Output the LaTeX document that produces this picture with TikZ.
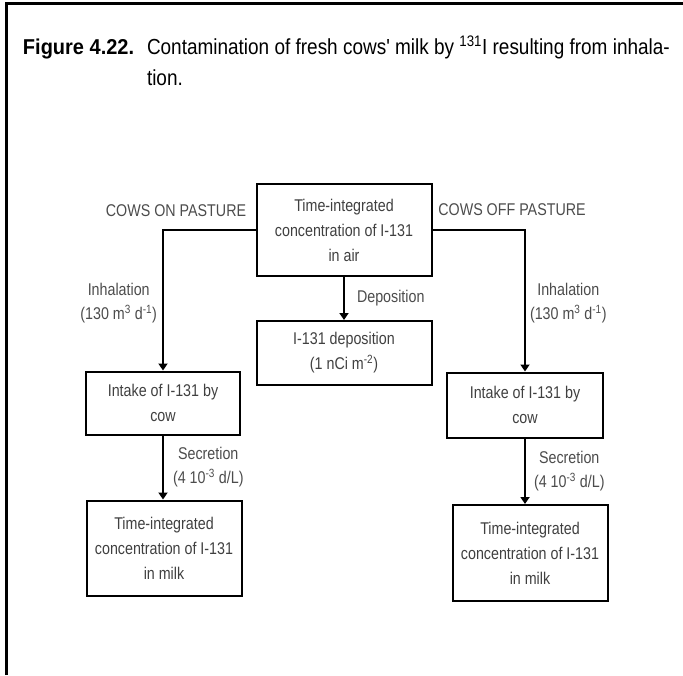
\documentclass[tikz,border=0pt]{standalone}
\usepackage{fontspec}
\setmainfont{Liberation Sans}
\newfontfamily\fuenteleyenda{Liberation Sans}[FakeStretch=0.87]
\newfontfamily\fuentefig{Liberation Sans}[FakeStretch=0.93]
\newfontfamily\fuentediag{Liberation Sans}[FakeStretch=0.84]
\usetikzlibrary{arrows.meta}

\begin{document}
\begin{tikzpicture}[x=1pt, y=-1pt, line width=2pt,
    caja/.style={draw, align=center, inner sep=0pt, text=black!75,
      font=\fuentediag\fontsize{17}{25}\selectfont},
    rotulo/.style={align=center, inner sep=0pt, text=black!70,
      font=\fuentediag\fontsize{17}{24}\selectfont},
    flecha/.style={-{Triangle[width=9pt,length=7pt]}}]
  \useasboundingbox (0,0) rectangle (683,675);
  % el marco y la leyenda
  \draw[line width=3pt] (6.5,675) -- (6.5,3.5) -- (683,3.5);
  \node[anchor=base west, inner sep=0pt, font=\fuentefig\bfseries\fontsize{21.5}{31}\selectfont] (fig) at (22,54) {Figure 4.22.};
  \node[anchor=north west, inner sep=0pt, align=left, font=\fuenteleyenda\fontsize{21.8}{31}\selectfont] (leyenda) at (146,35)
    {Contamination of fresh cows' milk by \textsuperscript{131}I resulting from inhala-\\tion.};
  % las cajas
  \node[caja, minimum width=175, minimum height=92] (aire) at (344,230) {Time-integrated\\concentration of I-131\\in air};
  \node[caja, minimum width=175, minimum height=64] (depo) at (344,353) {I-131 deposition\\(1 nCi m\textsuperscript{-2})};
  \node[caja, minimum width=154, minimum height=63] (ingL) at (163,403) {Intake of I-131 by\\cow};
  \node[caja, minimum width=156, minimum height=65] (ingR) at (525,405) {Intake of I-131 by\\cow};
  \node[caja, minimum width=155, minimum height=95] (lecheL) at (164,548) {Time-integrated\\concentration of I-131\\in milk};
  \node[caja, minimum width=155, minimum height=96] (lecheR) at (530,553) {Time-integrated\\concentration of I-131\\in milk};
  % los rotulos de arriba
  \node[rotulo] (pasto) at (176,211) {COWS ON PASTURE};
  \node[rotulo] (establo) at (512,210) {COWS OFF PASTURE};
  % las flechas
  \draw[flecha] (aire.west) -| node[rotulo, pos=0.76, left=5pt] {Inhalation\\(130 m\textsuperscript{3} d\textsuperscript{-1})} (ingL.north);
  \draw[flecha] (aire.east) -| node[rotulo, pos=0.76, right=4pt] {Inhalation\\(130 m\textsuperscript{3} d\textsuperscript{-1})} (ingR.north);
  \draw[flecha] (aire.south) -- node[rotulo, right=12pt] {Deposition} (depo.north);
  \draw[flecha] (ingL.south) -- node[rotulo, right=9pt] {Secretion\\(4 10\textsuperscript{-3} d/L)} (ingL.south |- lecheL.north);
  \draw[flecha] (ingR.south) -- node[rotulo, right=8pt] {Secretion\\(4 10\textsuperscript{-3} d/L)} (ingR.south |- lecheR.north);
\end{tikzpicture}
\end{document}
